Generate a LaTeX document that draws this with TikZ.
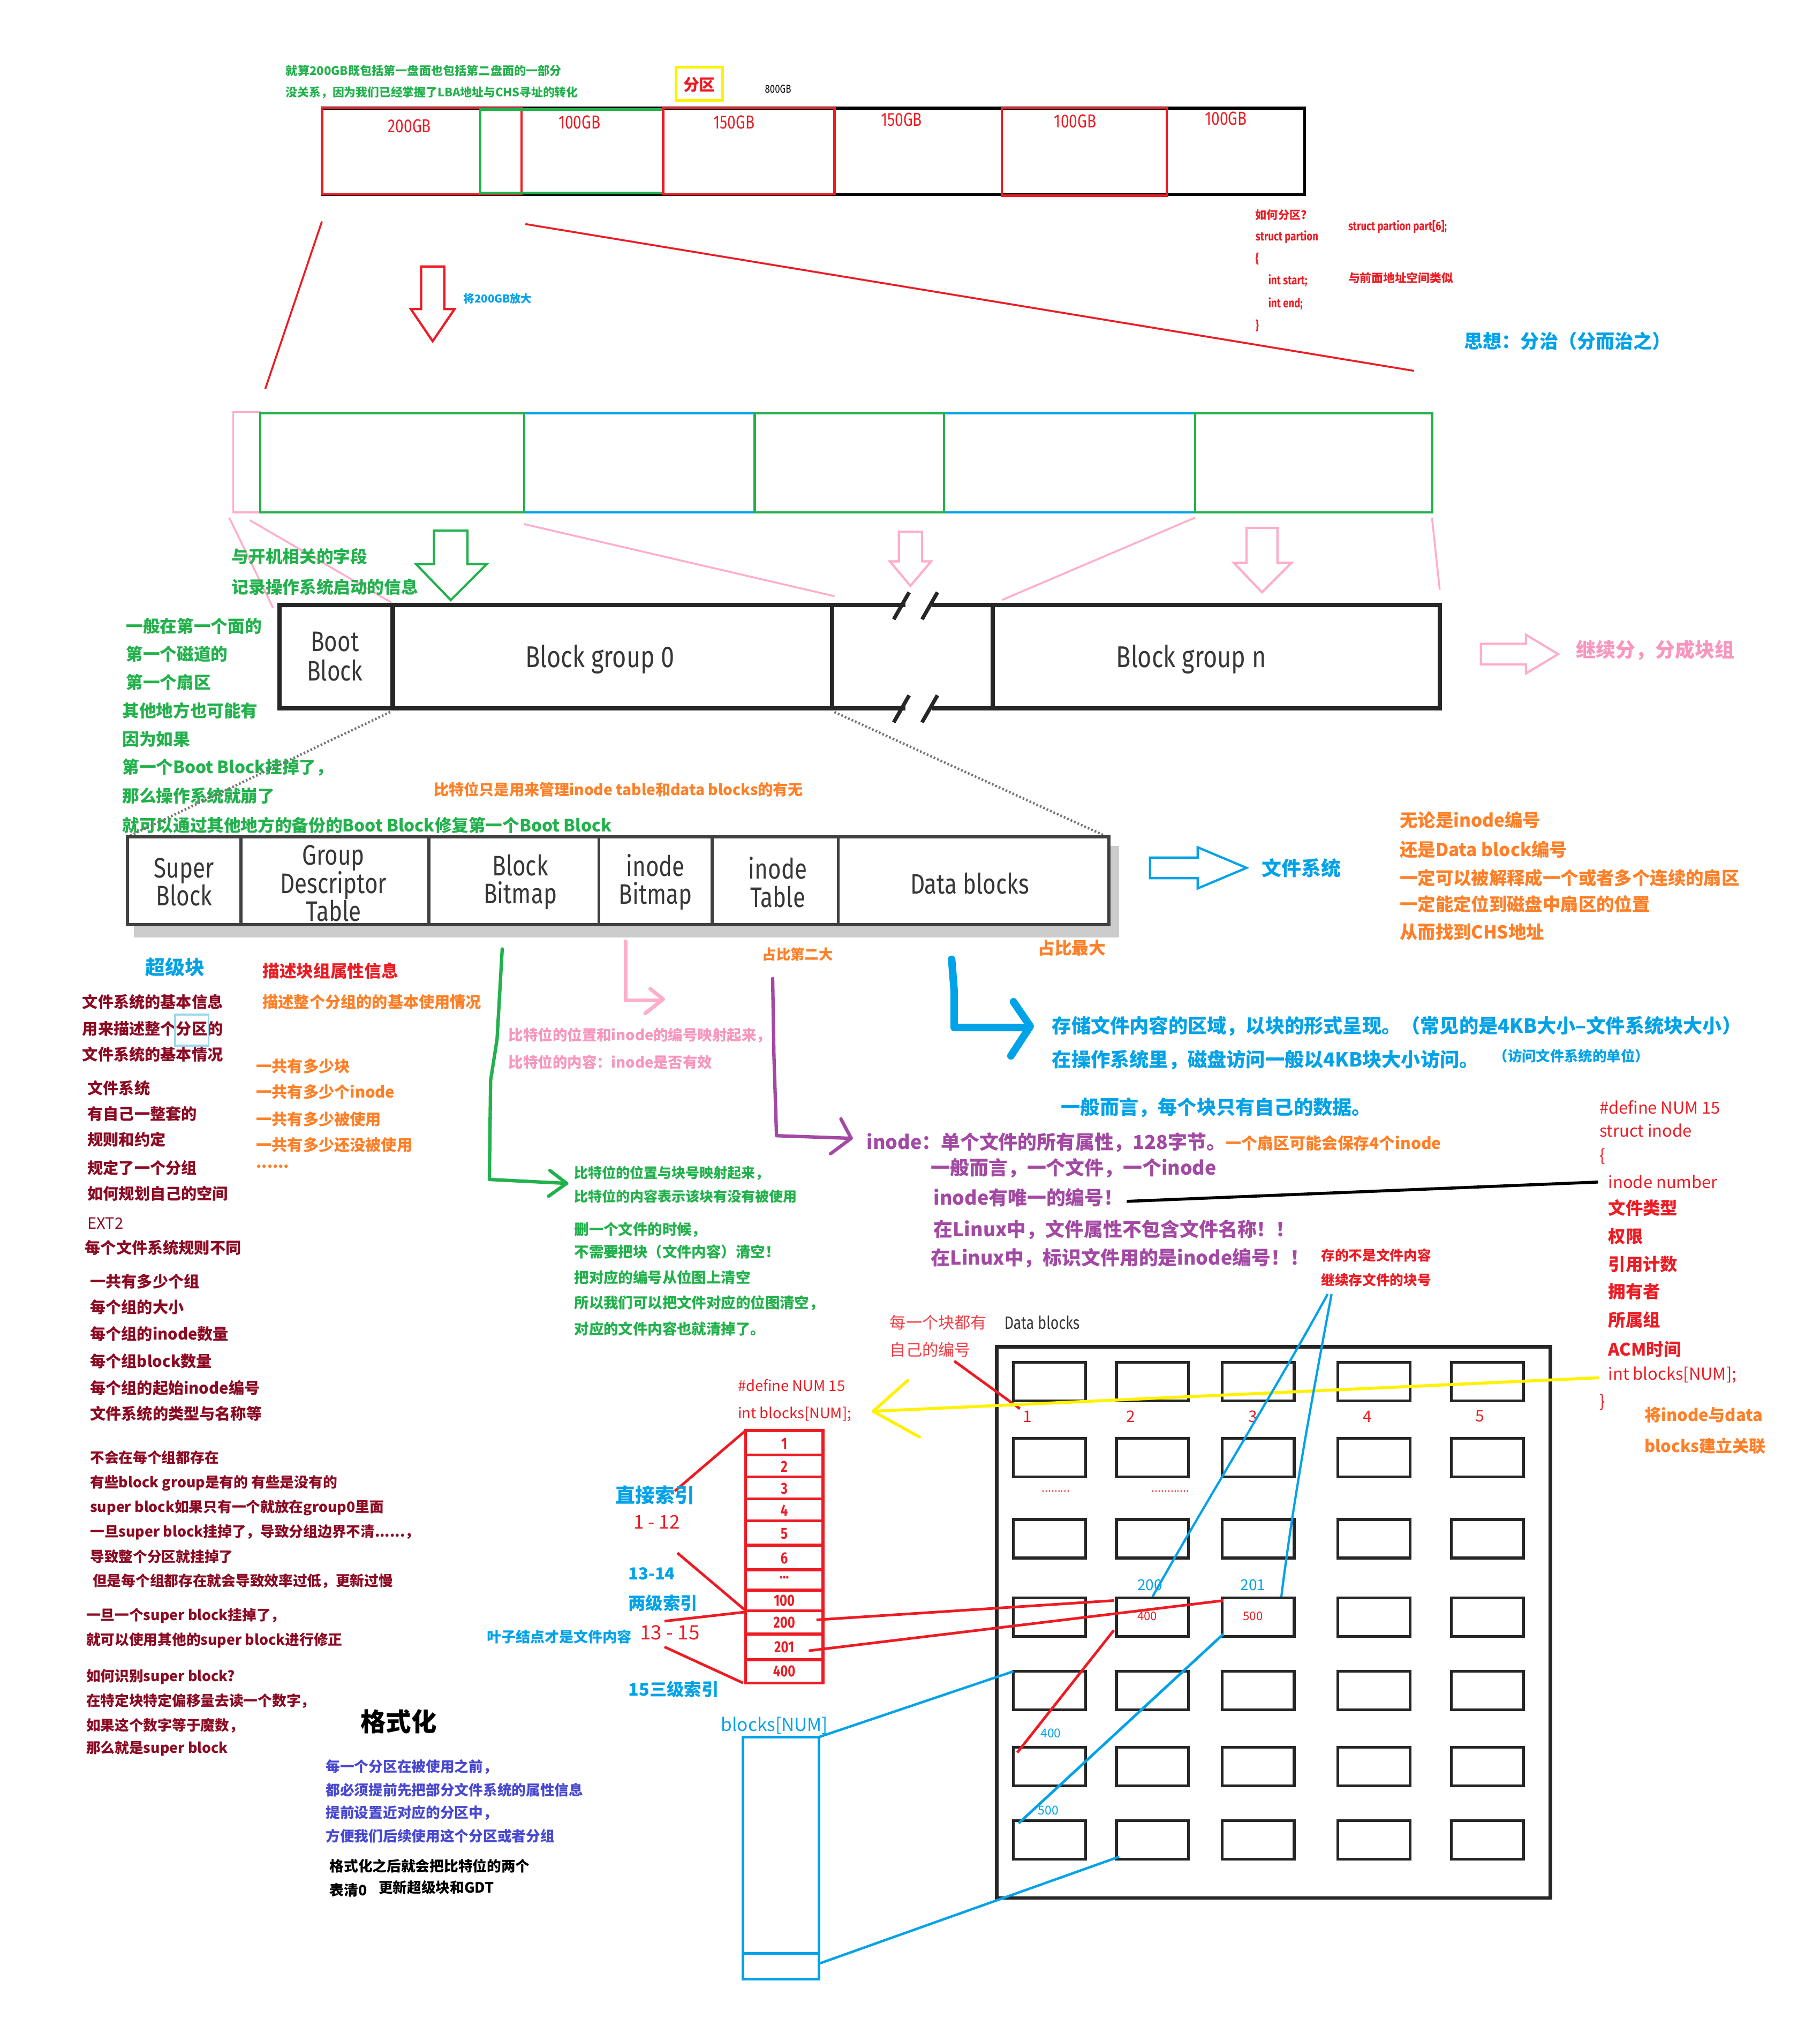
\documentclass[tikz,border=0pt]{standalone}
\usepackage{fontspec}
\setmainfont{Noto Sans CJK SC}
\newfontfamily\lbl{Fira Sans}[FakeStretch=0.8]
\definecolor{pgreen}{RGB}{34,177,76}
\definecolor{pred}{RGB}{237,28,36}
\definecolor{ppink}{RGB}{255,174,201}
\definecolor{ptpink}{RGB}{247,150,190}
\definecolor{pblue}{RGB}{0,162,232}
\definecolor{pyellow}{RGB}{255,242,0}
\definecolor{ppurple}{RGB}{163,73,164}
\definecolor{porange}{RGB}{255,127,39}
\definecolor{pdred}{RGB}{140,10,35}
\definecolor{pindigo}{RGB}{72,72,210}
\definecolor{plblue}{RGB}{153,217,234}
\definecolor{pgray}{RGB}{55,55,55}
\newcommand\fz[1]{\fontsize{#1pt}{#1pt}\selectfont}
\newcommand\fzb[2]{\fontsize{#1pt}{#2pt}\selectfont}
\tikzset{t/.style={anchor=west,inner sep=0pt,outer sep=0pt},
  c/.style={anchor=center,inner sep=0pt,outer sep=0pt},
  hol/.style={line width=1.2pt,line join=miter},
  sk/.style={line cap=round,line join=round}}
\begin{document}
\begin{tikzpicture}[x=0.02405cm,y=-0.02405cm]
\useasboundingbox (0,0) rectangle (1413,1568);
\fill[white] (0,0) rectangle (1413,1568);
% ---------------- top partition bar
\node[t,text=pgreen,font={\bfseries\fz{6.3}}] (g1) at (222,55) {就算200GB既包括第一盘面也包括第二盘面的一部分};
\node[t,text=pgreen,font={\bfseries\fz{6.2}}] (g2) at (222,72) {没关系，因为我们已经掌握了LBA地址与CHS寻址的转化};
\draw[pyellow,line width=1.4pt] (525,52) rectangle (561,78);
\node[c,text=pred,font={\bfseries\fz{8.5}}] (fq) at (543,66) {分区};
\node[t,font={\lbl\fz{6}}] (sz) at (594,69) {800GB};
\draw[black,line width=1.5pt] (250,84) rectangle (1013,151);
\draw[pred,line width=1.3pt] (250,84) rectangle (405,151);
\draw[pgreen,line width=1.3pt] (373,85) rectangle (515,150);
\draw[pred,line width=1.3pt] (515,84) rectangle (648,151);
\draw[pred,line width=1.3pt] (778,84) rectangle (906,152);
\foreach \x/\y/\s [count=\i] in {318/98/200GB,450/95/100GB,570/95/150GB,700/93/150GB,835/94/100GB,952/92/100GB}
  \node[c,text=pred,font={\lbl\fz{10}}] (p\i) at (\x,\y) {\s};
\draw[pred,line width=1pt] (250,172) -- (206,302);
\draw[pred,line width=1pt] (408,174) -- (1098,288);
\draw[pred,hol] (327,207) -- (345,207) -- (345,240) -- (353,240) -- (336,265) -- (319,240) -- (327,240) -- cycle;
\node[t,text=pblue,font={\bfseries\fz{5.8}}] (fd) at (360,232) {将200GB放大};
% struct partion
\node[t,text=pred,font={\bfseries\fz{6}}] (s1) at (975,167) {如何分区?};
\foreach \x/\y/\s [count=\i] in {975/184/struct partion,975/201/\{,985/218/int start;,985/236/int end;,975/253/\},1047/176/struct partion part[6];}
  \node[t,text=pred,font={\lbl\bfseries\fz{6.6}}] (sp\i) at (\x,\y) {\s};
\node[t,text=pred,font={\bfseries\fz{6.2}}] (s2) at (1047,216) {与前面地址空间类似};
\node[t,text=pblue,font={\bfseries\fz{10}}] (sx) at (1137,265) {思想：分治（分而治之）};
% ---------------- second bar
\draw[ppink,line width=1pt] (181,320) rectangle (202,398);
\draw[pblue,line width=1pt] (202,321) rectangle (1112,398);
\draw[pgreen,line width=1.3pt] (202,321) rectangle (407,398);
\draw[pgreen,line width=1.3pt] (586,321) rectangle (733,398);
\draw[pgreen,line width=1.3pt] (928,321) rectangle (1112,398);
\draw[ppink,line width=1pt] (178,402) -- (212,472);
\draw[ppink,line width=1pt] (194,404) -- (304,468);
\draw[ppink,line width=1pt] (407,407) -- (648,463);
\draw[ppink,line width=1pt] (928,402) -- (778,466);
\draw[ppink,line width=1pt] (1112,402) -- (1118,458);
\draw[pgreen,hol] (337,412) -- (363,412) -- (363,438) -- (378,438) -- (350,466) -- (323,438) -- (337,438) -- cycle;
\draw[ppink,hol] (698,413) -- (716,413) -- (716,436) -- (723,436) -- (707,455) -- (691,436) -- (698,436) -- cycle;
\draw[ppink,hol] (968,410) -- (992,410) -- (992,437) -- (1003,437) -- (980,460) -- (958,437) -- (968,437) -- cycle;
% green notes
\foreach \x/\y/\s [count=\i] in {180/432/与开机相关的字段,180/456/记录操作系统启动的信息,98/486/一般在第一个面的,98/508/第一个磁道的,98/530/第一个扇区,95/552/其他地方也可能有,95/574/因为如果,95/596/第一个Boot Block挂掉了，,95/618/那么操作系统就崩了,95/641/就可以通过其他地方的备份的Boot Block修复第一个Boot Block}
  \node[t,text=pgreen,font={\bfseries\fz{9}}] (gn\i) at (\x,\y) {\s};
% ---------------- block group bar
\draw[black!85,line width=2.3pt,line join=miter] (703,470) -- (217,470) -- (217,550) -- (703,550);
\draw[black!85,line width=2.3pt,line join=miter] (724,470) -- (1118,470) -- (1118,550) -- (724,550);
\draw[black!85,line width=2.3pt] (305,470) -- (305,550) (646,470) -- (646,550) (771,470) -- (771,550);
\draw[black!85,line width=2pt] (694,481) -- (706,460) (716,481) -- (728,460) (694,561) -- (706,540) (716,561) -- (728,540);
\node[c,text=pgray,align=center,font={\lbl\fzb{15}{15.7}}] (bb) at (260,510) {Boot\\Block};
\node[c,text=pgray,font={\lbl\fz{16}}] (bg0) at (466,512) {Block group 0};
\node[c,text=pgray,font={\lbl\fz{16}}] (bgn) at (925,512) {Block group n};
\draw[ppink,hol] (1150,500) -- (1185,500) -- (1185,493) -- (1210,508) -- (1185,523) -- (1185,516) -- (1150,516) -- cycle;
\node[t,text=ptpink,font={\bfseries\fz{10.5}}] (jx) at (1224,505) {继续分，分成块组};
\node[t,text=porange,font={\bfseries\fz{8}}] (bt) at (337,613) {比特位只是用来管理inode table和data blocks的有无};
\draw[black!55,line width=1.3pt,dash pattern=on 0.9pt off 1.1pt] (303,553) -- (99,650);
\draw[black!55,line width=1.3pt,dash pattern=on 0.9pt off 1.1pt] (648,553) -- (860,650);
% ---------------- group bar
\fill[black!20] (104,657) rectangle (869,728);
\fill[white] (99,650) rectangle (861,718);
\draw[black!75,line width=1.6pt] (99,650) rectangle (861,718);
\draw[black!75,line width=1.6pt] (187,650) -- (187,718) (333,650) -- (333,718) (465,650) -- (465,718) (553,650) -- (553,718) (651,650) -- (651,718);
\node[c,text=pgray,align=center,font={\lbl\fzb{15}{15}}] (sb) at (143,685) {Super\\Block};
\node[c,text=pgray,align=center,font={\lbl\fzb{15}{15}}] (gdt) at (259,686) {Group\\Descriptor\\Table};
\node[c,text=pgray,align=center,font={\lbl\fzb{15}{15}}] (bbm) at (404,685) {Block\\Bitmap};
\node[c,text=pgray,align=center,font={\lbl\fzb{15}{15}}] (ibm) at (509,685) {inode\\Bitmap};
\node[c,text=pgray,align=center,font={\lbl\fzb{15}{15}}] (itb) at (604,685) {inode\\Table};
\node[c,text=pgray,font={\lbl\fz{15}}] (dbl) at (753,686) {Data blocks};
\draw[pblue,hol] (893,666) -- (930,666) -- (930,658) -- (968,674) -- (930,690) -- (930,682) -- (893,682) -- cycle;
\node[t,text=pblue,font={\bfseries\fz{10.5}}] (wj) at (980,674) {文件系统};
\foreach \y/\s [count=\i] in {637/无论是inode编号,660/还是Data block编号,682/一定可以被解释成一个或者多个连续的扇区,702/一定能定位到磁盘中扇区的位置,724/从而找到CHS地址}
  \node[t,text=porange,font={\bfseries\fz{9.5}}] (or\i) at (1087,\y) {\s};
\node[t,text=porange,font={\bfseries\fz{9}}] (zb1) at (806,736) {占比最大};
\node[t,text=porange,font={\bfseries\fz{7.5}}] (zb2) at (592,741) {占比第二大};
% ---------------- super block notes
\node[t,text=pblue,font={\bfseries\fz{10.5}}] (cjk) at (113,751) {超级块};
\node[t,text=pred,font={\bfseries\fz{9}}] (ms1) at (204,754) {描述块组属性信息};
\node[t,text=porange,font={\bfseries\fz{8.3}}] (ms2) at (204,778) {描述整个分组的的基本使用情况};
\foreach \x/\y/\s [count=\i] in {64/778/文件系统的基本信息,64/799/用来描述整个分区的,64/819/文件系统的基本情况,68/845/文件系统,68/865/有自己一整套的,68/885/规则和约定,68/907/规定了一个分组,68/927/如何规划自己的空间,66/969/每个文件系统规则不同,70/995/一共有多少个组,70/1015/每个组的大小,70/1036/每个组的inode数量,70/1057/每个组block数量,70/1078/每个组的起始inode编号,70/1098/文件系统的类型与名称等}
  \node[t,text=pdred,font={\bfseries\fz{8.3}}] (dr\i) at (\x,\y) {\s};
\node[t,text=pdred,font={\fz{8.3}}] (ext) at (68,950) {EXT2};
\draw[plblue,line width=1pt] (136,788) rectangle (162,812);
\foreach \y/\s [count=\i] in {828/一共有多少块,848/一共有多少个inode,869/一共有多少被使用,889/一共有多少还没被使用}
  \node[t,text=porange,font={\bfseries\fz{8.3}}] (ol\i) at (199,\y) {\s};
\node[t,text=porange,font={\bfseries\fz{8.3}}] (ol5) at (199,906) {......};
\foreach \y/\s [count=\i] in {1132/不会在每个组都存在,1152/有些block group是有的 有些是没有的,1171/super block如果只有一个就放在group0里面,1209/导致整个分区就挂掉了}
  \node[t,text=pdred,font={\bfseries\fz{7.6}}] (sb\i) at (70,\y) {\s};
\node[t,text=pdred,font={\bfseries\fz{7.6}}] (sb5) at (70,1190) {一旦super block挂掉了，导致分组边界不清......，};
\node[t,text=pdred,font={\bfseries\fz{7.6}}] (sb6) at (72,1228) {但是每个组都存在就会导致效率过低，更新过慢};
\foreach \y/\s [count=\i] in {1255/一旦一个super block挂掉了，,1274/就可以使用其他的super block进行修正,1302/如何识别super block?,1321/在特定块特定偏移量去读一个数字，,1340/如果这个数字等于魔数，,1358/那么就是super block}
  \node[t,text=pdred,font={\bfseries\fz{7.6}}] (sr\i) at (67,\y) {\s};
% ---------------- bitmap arrows and notes
\draw[pgreen,line width=1.8pt,sk] (390,737) -- (386,807) -- (381,839) -- (380,916) -- (440,919);
\draw[pgreen,line width=1.8pt,sk] (427,909) -- (440,919) -- (426,929);
\foreach \y/\s [count=\i] in {911/比特位的位置与块号映射起来，,929/比特位的内容表示该块有没有被使用}
  \node[t,text=pgreen,font={\bfseries\fz{7.4}}] (gb\i) at (446,\y) {\s};
\foreach \y/\s [count=\i] in {955/删一个文件的时候，,972/不需要把块（文件内容）清空！,992/把对应的编号从位图上清空,1012/所以我们可以把文件对应的位图清空，,1032/对应的文件内容也就清掉了。}
  \node[t,text=pgreen,font={\bfseries\fz{7.8}}] (gd\i) at (446,\y) {\s};
\draw[ppink,line width=2pt,sk] (486,731) -- (486,777) -- (514,777);
\draw[ppink,line width=2pt,sk] (505,768) -- (515,776) -- (501,787);
\node[t,text=ptpink,font={\bfseries\fz{7.8}}] (pk1) at (395,804) {比特位的位置和inode的编号映射起来，};
\node[t,text=ptpink,font={\bfseries\fz{7.8}}] (pk2) at (395,825) {比特位的内容：inode是否有效};
\draw[ppurple,line width=1.8pt,sk] (600,760) -- (601,820) -- (603,882) -- (660,884);
\draw[ppurple,line width=1.8pt,sk] (653,869) -- (661,884) -- (645,896);
\node[t,font={\bfseries\fz{10.2}}] (in1) at (673,887) {\textcolor{ppurple}{inode：单个文件的所有属性，128字节。}\textcolor{porange}{\fz{8.5}一个扇区可能会保存4个inode}};
\foreach \x/\y/\s [count=\i] in {723/907/一般而言，一个文件，一个inode,725/930/inode有唯一的编号！,725/955/在Linux中，文件属性不包含文件名称！！,723/977/在Linux中，标识文件用的是inode编号！！}
  \node[t,text=ppurple,font={\bfseries\fz{10.2}}] (ip\i) at (\x,\y) {\s};
\draw[pblue,line width=4pt,sk] (739,745) -- (741,770) -- (741,798) -- (798,798);
\draw[pblue,line width=4pt,sk] (787,778) -- (800,797) -- (785,820);
\node[t,text=pblue,font={\bfseries\fz{10.3}}] (db1) at (817,797) {存储文件内容的区域，以块的形式呈现。（常见的是4KB大小--文件系统块大小）};
\node[t,text=pblue,font={\bfseries\fz{10.3}}] (db2) at (817,823) {在操作系统里，磁盘访问一般以4KB块大小访问。};
\node[t,text=pblue,font={\bfseries\fz{7.5}}] (db3) at (1160,820) {（访问文件系统的单位）};
\node[t,text=pblue,font={\bfseries\fz{10.3}}] (db4) at (824,860) {一般而言，每个块只有自己的数据。};
% ---------------- struct inode
\foreach \x/\y/\s [count=\i] in {1242/860/\#define NUM 15,1242/878/struct inode,1242/898/\{,1249/918/inode number,1249/1068/int blocks[NUM];,1242/1089/\}}
  \node[t,text=pred,font={\fz{8.8}}] (si\i) at (\x,\y) {\s};
\foreach \y/\s [count=\i] in {938/文件类型,960/权限,982/引用计数,1003/拥有者,1025/所属组,1048/ACM时间}
  \node[t,text=pred,font={\bfseries\fz{9.2}}] (sa\i) at (1249,\y) {\s};
\node[t,text=porange,font={\bfseries\fz{8.8}}] (gl1) at (1277,1099) {将inode与data};
\node[t,text=porange,font={\bfseries\fz{8.8}}] (gl2) at (1277,1123) {blocks建立关联};
\draw[black,line width=1.6pt] (875,933) -- (1241,918);
\node[t,text=pred,font={\bfseries\fz{7.3}}] (cb1) at (1026,975) {存的不是文件内容};
\node[t,text=pred,font={\bfseries\fz{7.3}}] (cb2) at (1026,994) {继续存文件的块号};
% ---------------- data blocks grid
\node[t,text=pred!85,font={\fz{8.6}}] (mk1) at (691,1027) {每一个块都有};
\node[t,text=pred!85,font={\fz{8.6}}] (mk2) at (691,1048) {自己的编号};
\node[t,text=pgray,font={\lbl\fz{9.5}}] (dbt) at (780,1027) {Data blocks};
\draw[black!85,line width=1.8pt] (774,1046) rectangle (1204,1474);
\foreach \yy in {1058,1117,1180,1241,1298,1357,1414}
  \foreach \xx in {787,867,949,1039,1127}
    \draw[black!85,line width=1.5pt] (\xx,\yy) rectangle ++(56,30);
\foreach \x/\s [count=\i] in {798/1,878/2,973/3,1062/4,1149/5}
  \node[c,text=pred,font={\fz{8.5}}] (nm\i) at (\x,1100) {\s};
\node[c,text=pred,font={\fz{6}}] (dt1) at (820,1158) {.........};
\node[c,text=pred,font={\fz{6}}] (dt2) at (909,1158) {............};
\node[c,text=pblue,font={\fz{8}}] (b200) at (893,1231) {200};
\node[c,text=pblue,font={\fz{8}}] (b201) at (973,1231) {201};
\node[c,text=pred,font={\fz{6.3}}] (r400) at (891,1255) {400};
\node[c,text=pred,font={\fz{6.3}}] (r500) at (973,1255) {500};
\node[c,text=pblue,font={\fz{6.5}}] (c400) at (816,1346) {400};
\node[c,text=pblue,font={\fz{6.5}}] (c500) at (814,1406) {500};
\draw[pred,line width=1.4pt] (741,1057) -- (792,1094);
\draw[pyellow,line width=1.6pt,sk] (1241,1070) -- (678,1096);
\draw[pyellow,line width=1.6pt,sk] (705,1072) -- (678,1096) -- (714,1116);
\draw[pblue,line width=1.2pt] (1031,1005) .. controls (990,1080) and (940,1160) .. (895,1240);
\draw[pblue,line width=1.2pt] (1034,1005) .. controls (1020,1080) and (1005,1160) .. (995,1240);
\draw[pred,line width=1.4pt] (865,1266) -- (790,1361);
\draw[pblue,line width=1.4pt] (950,1269) -- (791,1416);
% ---------------- blocks array
\node[t,text=pred,font={\fz{7.8}}] (df) at (573,1076) {\#define NUM 15};
\node[t,text=pred,font={\fz{7.8}}] (ib) at (573,1098) {int blocks[NUM];};
\draw[pred,line width=1.6pt] (579,1111) rectangle (639,1307);
\foreach \yy in {1130,1147,1164,1181,1200,1219,1235,1251,1269,1289}
  \draw[pred,line width=1.6pt] (579,\yy) -- (639,\yy);
\foreach \y/\s [count=\i] in {1121/1,1139/2,1156/3,1173/4,1191/5,1210/6,1243/100,1260/200,1279/201,1298/400}
  \node[c,text=pred,font={\lbl\bfseries\fz{8.5}}] (ar\i) at (609,\y) {\s};
\node[c,text=pred,font={\lbl\bfseries\fz{8.5}}] (ar11) at (609,1225) {...};
\draw[pred,line width=1.4pt] (579,1111) -- (524,1158);
\draw[pred,line width=1.4pt] (526,1206) -- (578,1250);
\draw[pred,line width=1.4pt] (516,1259) -- (578,1252);
\draw[pred,line width=1.4pt] (634,1258) -- (865,1243);
\draw[pred,line width=1.4pt] (628,1282) -- (950,1243);
\draw[pred,line width=1.4pt] (516,1279) -- (577,1307);
\node[t,text=pblue,font={\bfseries\fz{10.5}}] (zj) at (478,1161) {直接索引};
\node[t,text=pred,font={\fz{10}}] (r112) at (492,1182) {1 - 12};
\node[t,text=pblue,font={\bfseries\fz{8.8}}] (r1314) at (488,1222) {13-14};
\node[t,text=pblue,font={\bfseries\fz{9.2}}] (lj) at (488,1245) {两级索引};
\node[t,text=pblue,font={\bfseries\fz{7.7}}] (yz) at (378,1271) {叶子结点才是文件内容};
\node[t,text=pred,font={\fz{10.5}}] (r1315) at (497,1268) {13 - 15};
\node[t,text=pblue,font={\bfseries\fz{9.2}}] (sj) at (488,1312) {15三级索引};
\node[t,text=pblue,font={\fz{9.5}}] (bn) at (560,1340) {blocks[NUM]};
\draw[pblue,line width=1.3pt] (577,1349) rectangle (636,1537);
\draw[pblue,line width=1.3pt] (577,1517) -- (636,1517);
\draw[pblue,line width=1.3pt] (636,1349) -- (787,1298);
\draw[pblue,line width=1.3pt] (636,1525) -- (869,1442);
% ---------------- format
\node[t,font={\bfseries\fz{13.5}}] (gsh) at (280,1337) {格式化};
\foreach \y/\s [count=\i] in {1372/每一个分区在被使用之前，,1390/都必须提前先把部分文件系统的属性信息,1408/提前设置近对应的分区中，,1426/方便我们后续使用这个分区或者分组}
  \node[t,text=pindigo,font={\bfseries\fz{7.6}}] (fm\i) at (253,\y) {\s};
\node[t,font={\bfseries\fz{7.6}}] (fb1) at (256,1449) {格式化之后就会把比特位的两个};
\node[t,font={\bfseries\fz{7.6}}] (fb2) at (256,1468) {表清0};
\node[t,font={\bfseries\fz{7.6}}] (fb3) at (294,1466) {更新超级块和GDT};
\end{tikzpicture}
\end{document}
